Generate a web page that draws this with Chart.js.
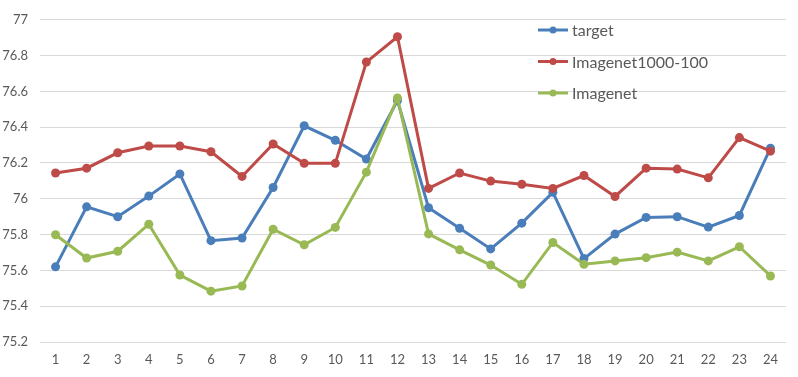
<!DOCTYPE html>
<html>
<head>
<meta charset="utf-8">
<script src="https://cdn.jsdelivr.net/npm/chart.js@4/dist/chart.umd.min.js"></script>
<style>
  html, body { margin: 0; padding: 0; background: #fff; }
  #wrap { width: 798px; height: 377px; }
</style>
</head>
<body>
<div id="wrap"><canvas id="lineChart"></canvas></div>
<script>
var labels = ['1','2','3','4','5','6','7','8','9','10','11','12','13','14','15','16','17','18','19','20','21','22','23','24'];
var target = [75.62, 75.955, 75.90, 76.015, 76.139, 75.766, 75.781, 76.063, 76.408, 76.327, 76.222, 76.549,
              75.95, 75.835, 75.72, 75.864, 76.036, 75.666, 75.803, 75.896, 75.90, 75.842, 75.907, 76.283];
var imagenet1000 = [76.144, 76.171, 76.257, 76.295, 76.295, 76.263, 76.125, 76.306, 76.198, 76.198, 76.764, 76.905,
                    76.058, 76.144, 76.099, 76.081, 76.058, 76.13, 76.013, 76.171, 76.166, 76.117, 76.342, 76.266];
var imagenet = [75.799, 75.669, 75.707, 75.858, 75.574, 75.484, 75.513, 75.83, 75.743, 75.84, 76.149, 76.563,
                75.804, 75.715, 75.63, 75.522, 75.756, 75.634, 75.653, 75.671, 75.702, 75.653, 75.732, 75.569];
var seriesNames = ['target', 'Imagenet1000-100', 'Imagenet'];
var colors = ['#4a7ebb', '#be4b48', '#98b954'];

var ctx = document.getElementById('lineChart').getContext('2d');

function makeSet(i, data) {
  return {
    label: seriesNames[i],
    data: data,
    borderColor: colors[i],
    backgroundColor: colors[i],
    borderWidth: 3,
    pointRadius: 4.5,
    pointHoverRadius: 4.5,
    pointBorderWidth: 0,
    tension: 0,
    order: 3 - i   // later series are drawn on top
  }
}

// legend drawn inside the plot, like the original
var innerLegend = {
  id: 'innerLegend',
  afterDraw: function(chart) {
    var c = chart.ctx;
    c.save();
    c.font = '16px Lato';
    c.textBaseline = 'middle';
    chart.data.datasets.forEach(function(ds, i) {
      var y = 30 + i * 31.5;
      c.strokeStyle = ds.borderColor;
      c.lineWidth = 3;
      c.beginPath();
      c.moveTo(538, y);
      c.lineTo(568, y);
      c.stroke();
      c.fillStyle = ds.borderColor;
      c.beginPath();
      c.arc(553, y, 3.5, 0, Math.PI * 2);
      c.fill();
      c.fillStyle = '#595959';
      c.fillText(ds.label, 572, y + 1);
    });
    c.restore();
  }
};

var myChart = new Chart(ctx, {
  type: 'line',
  data: {
    labels: labels,
    datasets: [makeSet(0, target), makeSet(1, imagenet1000), makeSet(2, imagenet)]
  },
  options: {
    responsive: true,
    maintainAspectRatio: false,
    animation: false,
    layout: { padding: { top: 8, right: 12, left: 0, bottom: 0 } },
    plugins: {
      legend: { display: false },
      tooltip: { enabled: false }
    },
    scales: {
      x: {
        offset: true,
        grid: { display: false, drawTicks: false },
        border: { display: false },
        ticks: { color: '#595959', font: { family: 'Lato', size: 13 }, padding: 10, maxRotation: 0 },
        afterFit: function(scale) { scale.height = 35; }
      },
      y: {
        min: 75.2,
        max: 77,
        grid: { color: '#d9d9d9', lineWidth: 1, drawTicks: false },
        border: { display: false },
        ticks: {
          stepSize: 0.2,
          color: '#595959',
          font: { family: 'Lato', size: 13 },
          padding: 12,
          callback: function(v) { return Math.round(v * 10) / 10; }
        },
        afterFit: function(scale) { scale.width = 40; }
      }
    }
  },
  plugins: [innerLegend]
});
</script>
</body>
</html>
